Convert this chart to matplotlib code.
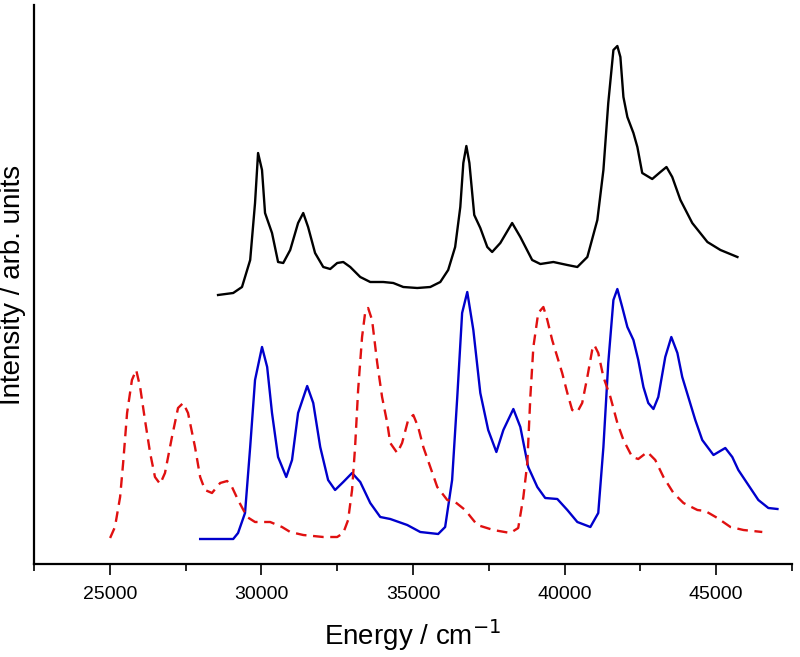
import numpy as np
import matplotlib
matplotlib.use("Agg")
import matplotlib.pyplot as plt
from matplotlib.ticker import MultipleLocator

# Energy (cm-1) and intensity (arb. units)
black_energy = [28570, 29070, 29360, 29630, 29790, 29890, 30020, 30120, 30350, 30550,
                30720, 30950, 31210, 31380, 31540, 31770, 32040, 32270, 32500, 32700,
                32930, 33260, 33590, 34020, 34350, 34680, 35140, 35570, 35900, 36160,
                36390, 36560, 36660, 36760, 36860, 37020, 37220, 37450, 37610, 37880,
                38270, 38540, 38930, 39200, 39630, 40090, 40420, 40750, 41080, 41280,
                41440, 41610, 41740, 41840, 41940, 42070, 42270, 42400, 42560, 42890,
                43160, 43360, 43550, 43820, 44210, 44710, 45140, 45700]
black_intensity = [269, 271, 277, 304, 361, 411, 394, 351, 331, 302,
                   301, 314, 341, 351, 337, 311, 297, 295, 301, 302,
                   297, 287, 282, 282, 281, 277, 276, 277, 282, 294,
                   317, 357, 401, 418, 401, 349, 336, 317, 312, 321,
                   341, 327, 304, 300, 302, 299, 297, 307, 344, 394,
                   461, 514, 518, 507, 467, 447, 431, 417, 391, 385,
                   392, 397, 387, 364, 341, 322, 314, 307]

blue_energy = [27980, 29070, 29230, 29460, 29630, 29790, 30020, 30190, 30350, 30550,
               30820, 31010, 31210, 31510, 31710, 31940, 32200, 32430, 32700, 32990,
               33260, 33590, 33920, 34250, 34810, 35240, 35830, 36060, 36290, 36460,
               36620, 36790, 36990, 37220, 37480, 37750, 37980, 38310, 38540, 38800,
               39100, 39360, 39760, 40090, 40420, 40850, 41110, 41280, 41440, 41610,
               41740, 41900, 42070, 42270, 42430, 42600, 42760, 42930, 43090, 43320,
               43520, 43720, 43880, 44080, 44310, 44540, 44910, 45300, 45530, 45730,
               46060, 46390, 46720, 47020]
blue_intensity = [25, 25, 31, 51, 117, 184, 217, 197, 151, 107,
                  87, 104, 151, 178, 161, 117, 84, 74, 82, 91,
                  82, 61, 47, 45, 39, 32, 30, 37, 84, 167,
                  251, 272, 234, 171, 134, 112, 134, 155, 137, 97,
                  77, 66, 65, 54, 42, 37, 51, 117, 201, 264,
                  275, 257, 237, 224, 204, 177, 161, 155, 167, 207,
                  227, 211, 187, 167, 144, 124, 109, 116, 107, 94,
                  79, 64, 56, 55]

red_energy = [25010, 25170, 25340, 25440, 25570, 25730, 25870, 26000, 26160, 26330,
              26490, 26660, 26820, 27050, 27250, 27420, 27580, 27810, 27980, 28140,
              28370, 28640, 28870, 29030, 29230, 29530, 29790, 30290, 30680, 30950,
              31380, 32040, 32500, 32700, 32860, 32990, 33090, 33190, 33320, 33420,
              33520, 33650, 33820, 33980, 34150, 34250, 34480, 34640, 34840, 35010,
              35170, 35340, 35570, 35800, 36130, 36390, 36720, 37120, 37650, 38210,
              38470, 38640, 38770, 38870, 38970, 39130, 39300, 39430, 39590, 39760,
              39920, 40090, 40250, 40420, 40580, 40750, 40910, 40980, 41110, 41280,
              41510, 41740, 41940, 42230, 42430, 42730, 42990, 43260, 43590, 43920,
              44380, 44640, 45040, 45470, 45900, 46520]
red_intensity = [26, 37, 67, 101, 151, 184, 194, 177, 144, 111,
                 87, 80, 91, 127, 156, 161, 151, 117, 87, 74,
                 71, 81, 83, 77, 64, 47, 42, 42, 37, 32,
                 29, 27, 27, 31, 44, 74, 117, 174, 227, 251,
                 256, 244, 201, 167, 141, 121, 111, 121, 144, 149,
                 137, 117, 97, 77, 64, 62, 54, 39, 34, 31,
                 36, 67, 101, 167, 217, 251, 257, 244, 224, 207,
                 191, 171, 154, 152, 161, 187, 214, 219, 211, 187,
                 167, 141, 124, 107, 105, 112, 104, 87, 71, 61,
                 54, 53, 46, 37, 34, 32]

plt.rcParams['font.family'] = ['Liberation Sans', 'DejaVu Sans']

fig = plt.figure(figsize=(8, 6.57), dpi=100)
ax = fig.add_axes([34 / 800, 93 / 657, 758 / 800, 559 / 657])

ax.plot(black_energy, black_intensity, color='black', lw=1.7, solid_joinstyle='round')
ax.plot(blue_energy, blue_intensity, color='#0000CC', lw=1.7, solid_joinstyle='round')
ax.plot(red_energy, red_intensity, color='#E01010', lw=1.7, linestyle=(0, (4.5, 2.8)),
        dash_joinstyle='round')

ax.set_xlim(22500, 47500)
ax.set_ylim(0, 559)

ax.spines['top'].set_visible(False)
ax.spines['right'].set_visible(False)
ax.spines['left'].set_linewidth(1.6)
ax.spines['bottom'].set_linewidth(1.6)

ax.xaxis.set_major_locator(MultipleLocator(5000))
ax.xaxis.set_minor_locator(MultipleLocator(2500))
ax.tick_params(axis='x', which='major', direction='out', length=8, width=1.2,
               labelsize=14, pad=8)
ax.tick_params(axis='x', which='minor', direction='out', length=5, width=1.2)
ax.set_yticks([])

ax.set_xlabel('Energy / cm$^{-1}$', fontsize=20, labelpad=10)
ax.set_ylabel('Intensity / arb. units', fontsize=20, labelpad=6)

fig.savefig('out.png', dpi=100)
